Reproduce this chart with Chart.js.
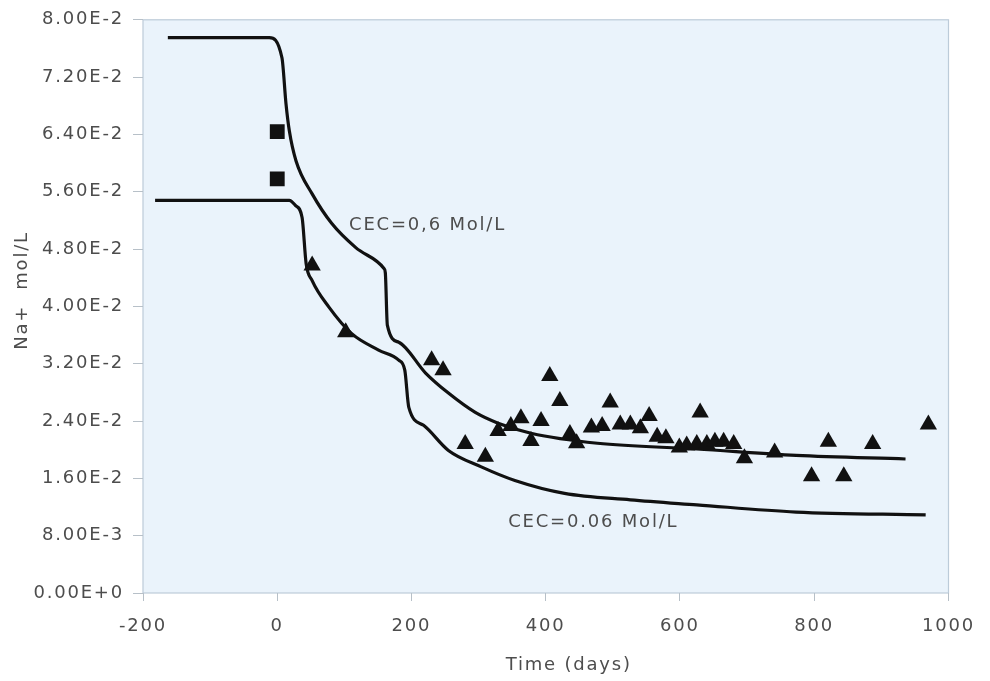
<!DOCTYPE html>
<html>
<head>
<meta charset="utf-8">
<script src="https://cdn.jsdelivr.net/npm/chart.js@4.4.1/dist/chart.umd.min.js"></script>
<style>
  html, body { margin: 0; padding: 0; background: #ffffff; }
  #wrap { position: relative; width: 990px; height: 681px; }
</style>
</head>
<body>
<div id="wrap"><canvas id="chart"></canvas></div>
<script>
// Model curve, CEC = 0.6 mol/L
const upperTime = [-163, -12, 7, 13, 18, 28, 52, 81, 117, 159, 161, 164, 181, 221, 255, 295, 329, 378, 477, 625, 773, 936];
const upperNa   = [0.0775, 0.0775, 0.0747, 0.0683, 0.0645, 0.0603, 0.0557, 0.0516, 0.0482, 0.0453, 0.0447, 0.0374, 0.0350, 0.0307, 0.0279, 0.0252, 0.0237, 0.0223, 0.0209, 0.0201, 0.0192, 0.0187];

// Model curve, CEC = 0.06 mol/L
const lowerTime = [-182, 18, 27, 37, 43, 52, 77, 111, 151, 181, 190, 196, 218, 255, 304, 354, 428, 526, 625, 773, 966];
const lowerNa   = [0.0548, 0.0548, 0.0541, 0.0524, 0.0460, 0.0436, 0.0399, 0.0362, 0.0339, 0.0325, 0.0311, 0.0259, 0.0234, 0.0199, 0.0176, 0.0157, 0.0139, 0.0130, 0.0123, 0.0113, 0.0109];

// Initial measurements (squares)
const initTime = [0, 0];
const initNa   = [0.0644, 0.0578];

// Observed Na+ concentrations (triangles)
const obsTime = [52, 102, 230, 247, 280, 310, 329, 348, 363, 378, 393, 406, 421, 436, 446, 468, 484, 496, 511, 526,
                 541, 554, 566, 579, 599, 610, 625, 630, 640, 652, 665, 680, 696, 741, 796, 821, 844, 887, 970];
const obsNa   = [0.0457, 0.0364, 0.0325, 0.0311, 0.0208, 0.0190, 0.0226, 0.0233, 0.0244, 0.0212, 0.0240, 0.0303, 0.0268, 0.0222, 0.0209, 0.0231, 0.0233, 0.0266, 0.0235, 0.0235,
                 0.0230, 0.0247, 0.0218, 0.0216, 0.0203, 0.0206, 0.0208, 0.0252, 0.0208, 0.0211, 0.0211, 0.0208, 0.0188, 0.0196, 0.0163, 0.0211, 0.0163, 0.0208, 0.0235];

// Axis ticks
const xTicks = [-200, 0, 200, 400, 600, 800, 1000];
const yTicks = [0, 0.008, 0.016, 0.024, 0.032, 0.040, 0.048, 0.056, 0.064, 0.072, 0.080];

// Curve labels: text, time, value
const curveLabels = [
  { text: 'CEC=0,6 Mol/L', t: 107, v: 0.0513 },
  { text: 'CEC=0.06 Mol/L', t: 344, v: 0.0098 }
];

const xTitle = 'Time (days)';
const yTitle = 'Na+  mol/L';

const pairs = (xs, ys) => xs.map((x, i) => ({ x: x, y: ys[i] }));

function sci(v) {
  if (Math.abs(v) < 1e-12) return '0.00E+0';
  let e = Math.floor(Math.log10(v) + 1e-9);
  let m = v / Math.pow(10, e);
  if (m >= 9.995) { m /= 10; e += 1; }
  return m.toFixed(2) + 'E' + (e < 0 ? '-' : '+') + Math.abs(e);
}

const FONT = 'DejaVu Sans';
const TEXT = '#4d4d4d';
const SPACING = '1.8px';

// wide letter spacing for all canvas text
const spacing = {
  id: 'spacing',
  beforeUpdate(chart) { chart.ctx.letterSpacing = SPACING; },
  beforeDraw(chart) { chart.ctx.letterSpacing = SPACING; }
};

const plotBox = {
  id: 'plotBox',
  beforeDraw(chart) {
    const { ctx, chartArea: a } = chart;
    ctx.save();
    ctx.fillStyle = '#eaf3fb';
    ctx.fillRect(a.left, a.top, a.right - a.left, a.bottom - a.top);
    ctx.strokeStyle = '#bccbd9';
    ctx.lineWidth = 1.2;
    ctx.strokeRect(a.left, a.top, a.right - a.left, a.bottom - a.top);
    ctx.restore();
  }
};

const texts = {
  id: 'texts',
  afterDatasetsDraw(chart) {
    const { ctx, scales, chartArea: a } = chart;
    ctx.save();
    ctx.letterSpacing = SPACING;
    ctx.font = '18px "' + FONT + '"';
    ctx.fillStyle = TEXT;
    ctx.textAlign = 'left';
    ctx.textBaseline = 'middle';
    curveLabels.forEach(l => {
      ctx.fillText(l.text, scales.x.getPixelForValue(l.t), scales.y.getPixelForValue(l.v));
    });
    // axis titles
    ctx.textAlign = 'center';
    ctx.fillText(xTitle, (a.left + a.right) / 2 + 23, 665);
    ctx.translate(22, (a.top + a.bottom) / 2 - 16);
    ctx.rotate(-Math.PI / 2);
    ctx.fillText(yTitle, 0, 0);
    ctx.restore();
  }
};

new Chart(document.getElementById('chart'), {
  type: 'scatter',
  data: {
    datasets: [
      {
        label: 'observed',
        data: pairs(obsTime, obsNa),
        pointStyle: 'triangle',
        pointRadius: 10,
        pointHoverRadius: 10,
        backgroundColor: '#111111',
        borderColor: '#111111',
        borderWidth: 0,
        order: 0
      },
      {
        label: 'initial',
        data: pairs(initTime, initNa),
        pointStyle: 'rect',
        pointRadius: 10.5,
        pointHoverRadius: 10.5,
        backgroundColor: '#111111',
        borderColor: '#111111',
        borderWidth: 0,
        order: 0
      },
      {
        label: 'CEC=0.6',
        data: pairs(upperTime, upperNa),
        showLine: true,
        pointRadius: 0,
        borderColor: '#111111',
        borderWidth: 3.2,
        cubicInterpolationMode: 'monotone',
        order: 1
      },
      {
        label: 'CEC=0.06',
        data: pairs(lowerTime, lowerNa),
        showLine: true,
        pointRadius: 0,
        borderColor: '#111111',
        borderWidth: 3.2,
        cubicInterpolationMode: 'monotone',
        order: 1
      }
    ]
  },
  options: {
    responsive: true,
    maintainAspectRatio: false,
    animation: false,
    layout: { padding: { top: 19, right: 37, bottom: 0, left: 0 } },
    plugins: {
      legend: { display: false },
      tooltip: { enabled: false }
    },
    scales: {
      x: {
        type: 'linear',
        min: -200,
        max: 1000,
        afterBuildTicks: (s) => { s.ticks = xTicks.map(v => ({ value: v })); },
        afterFit: (s) => { s.height = 88; },
        border: { display: false },
        grid: { drawOnChartArea: false, drawTicks: true, tickLength: 8, tickColor: '#b7c0c8', tickWidth: 1 },
        ticks: { color: TEXT, font: { family: FONT, size: 18 }, padding: 15, maxRotation: 0, callback: (v) => String(v) }
      },
      y: {
        type: 'linear',
        min: 0,
        max: 0.08,
        afterBuildTicks: (s) => { s.ticks = yTicks.map(v => ({ value: v })); },
        afterFit: (s) => { s.width = 143; },
        border: { display: false },
        grid: { drawOnChartArea: false, drawTicks: true, tickLength: 10, tickColor: '#b7c0c8', tickWidth: 1 },
        ticks: { color: TEXT, font: { family: FONT, size: 18 }, padding: 9, callback: (v) => sci(v) }
      }
    }
  },
  plugins: [spacing, plotBox, texts]
});
</script>
</body>
</html>
